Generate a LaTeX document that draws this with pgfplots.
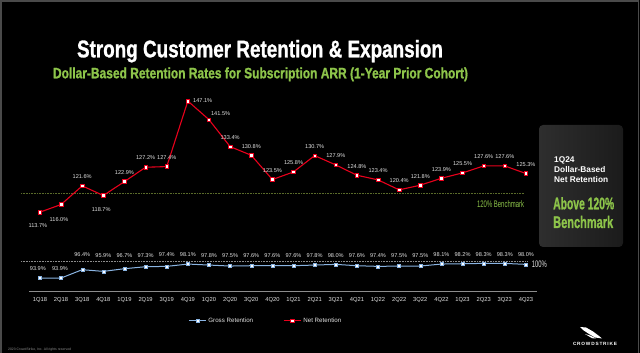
\documentclass[border=0pt]{standalone}
\usepackage{pgfplots}
\pgfplotsset{compat=1.18}
\usepackage{fontspec}
\setmainfont{Liberation Sans}
\newfontfamily\heavyfont{Liberation Sans Bold}[FakeBold=1.2]
\usepackage{graphicx}
\definecolor{csgreen}{HTML}{8DC44A}
\definecolor{netred}{HTML}{E8001C}
\definecolor{grossblue}{HTML}{8AB4E2}
\definecolor{lbl}{HTML}{E2E2E2}
\definecolor{bench}{HTML}{5A6B2A}
\definecolor{axgray}{HTML}{8C8C8C}
\definecolor{frame}{HTML}{4A4A4A}
\definecolor{boxL}{HTML}{2E2E2E}
\definecolor{boxR}{HTML}{1B1B1B}
\begin{document}
\begin{tikzpicture}[x=1pt,y=1pt]
\useasboundingbox (0,0) rectangle (640,353);
\fill[black] (0,0) rectangle (640,353);
\draw[frame, line width=1.5pt] (0.75,0) -- (0.75,352) -- (638.5,352) -- (638.5,0);
% right info box
\shade[rounded corners=4pt, left color=boxL, right color=boxR] (539,106) rectangle (623,228);
\node[anchor=base west, inner sep=0pt, text=white] at (554,190.7) {\fontsize{8.3}{9}\selectfont\bfseries 1Q24};
\node[anchor=base west, inner sep=0pt, text=white] at (554,180.3) {\fontsize{8.3}{9}\selectfont\bfseries Dollar-Based};
\node[anchor=base west, inner sep=0pt, text=white] at (554,170.3) {\fontsize{8.3}{9}\selectfont\bfseries Net Retention};
\node[anchor=base west, inner sep=0pt, text=csgreen] at (553,143.7) {\resizebox{61pt}{\height}{\fontsize{16.8}{17}\selectfont\heavyfont Above 120\%}};
\node[anchor=base west, inner sep=0pt, text=csgreen] at (553,125) {\resizebox{60pt}{\height}{\fontsize{16.8}{17}\selectfont\heavyfont Benchmark}};
% titles
\node[anchor=base, inner sep=0pt, text=white] at (260,295.7) {\resizebox{366pt}{\height}{\fontsize{24}{24}\selectfont\heavyfont Strong Customer Retention \& Expansion}};
\node[anchor=base, inner sep=0pt, text=csgreen] at (260.5,274.7) {\resizebox{415pt}{\height}{\fontsize{15}{15}\selectfont\heavyfont Dollar-Based Retention Rates for Subscription ARR (1-Year Prior Cohort)}};
% footer
\node[anchor=base west, inner sep=0pt, text=axgray] at (8,2.5) {\fontsize{3.4}{4}\selectfont 2023 CrowdStrike, Inc. All rights reserved};
\node[anchor=base, inner sep=0pt, text=white] at (595,7) {\resizebox{44pt}{\height}{\fontsize{4.6}{5}\selectfont\bfseries C\,R\,O\,W\,D\,S\,T\,R\,I\,K\,E}};
\fill[white] (580,26) -- (586,25.5) -- (593,21.5) -- (599,17) -- (602,14.5) -- (595,15.5) -- (589,19) -- (583,23) -- cycle;
\fill[white] (585,19) -- (590,17.5) -- (596,14.5) -- (592,14.8) -- cycle;

\begin{axis}[
  at={(29.4pt,62pt)}, anchor=south west, scale only axis,
  width=507.1pt, height=199.6pt,
  xmin=-0.5, xmax=23.5, ymin=90, ymax=150, clip=false,
  axis x line*=bottom, axis y line=none,
  x axis line style={draw=axgray, line width=0.9pt},
  xtick={0,...,23},
  xticklabels={1Q18,2Q18,3Q18,4Q18,1Q19,2Q19,3Q19,4Q19,1Q20,2Q20,3Q20,4Q20,1Q21,2Q21,3Q21,4Q21,1Q22,2Q22,3Q22,4Q22,1Q23,2Q23,3Q23,4Q23},
  xtick style={draw=none}, major tick length=0pt,
  xticklabel style={font=\fontsize{5.8}{6}\selectfont, text=lbl, anchor=base, yshift=-11pt},
  ytick=\empty,
  legend columns=2,
  legend style={draw=none, fill=none, text=lbl, font=\fontsize{6.2}{7}\selectfont,
    at={(0.313,-0.150)}, anchor=west, inner sep=0pt,
    /tikz/every even column/.append style={column sep=28pt}},
]
% reference lines
\addplot[forget plot, bench, line width=0.6pt, dash pattern=on 0.8pt off 0.8pt] coordinates {(-0.9,119.3) (22.9,119.3)};
\addplot[forget plot, axgray, line width=0.6pt, dash pattern=on 0.8pt off 0.8pt] coordinates {(-0.9,99.0) (23.05,99.0)};
\node[anchor=center, inner sep=0pt, text=csgreen] at (axis cs:21.8,116.1) {\resizebox{47pt}{\height}{\fontsize{9.5}{10}\selectfont 120\% Benchmark}};
\node[anchor=center, inner sep=0pt, text=lbl] at (axis cs:23.64,98.1) {\resizebox{15pt}{\height}{\fontsize{9.5}{10}\selectfont 100\%}};

\addplot[color=grossblue, line width=1pt, mark=square*, mark size=1.5pt,
  mark options={fill=white, draw=grossblue, line width=0.4pt}] coordinates {
(0,93.9) (1,93.9) (2,96.4) (3,95.9) (4,96.7) (5,97.3) (6,97.4) (7,98.1)
(8,97.8) (9,97.5) (10,97.6) (11,97.6) (12,97.6) (13,97.8) (14,98.0) (15,97.6)
(16,97.4) (17,97.5) (18,97.5) (19,98.1) (20,98.2) (21,98.3) (22,98.3) (23,98.0)};
\addlegendentry{Gross Retention}
\addplot[color=netred, line width=1.1pt, mark=square*, mark size=1.8pt,
  mark options={fill=white, draw=netred, line width=0.6pt}] coordinates {
(0,113.7) (1,116.0) (2,121.6) (3,118.7) (4,122.9) (5,127.2) (6,127.4) (7,147.1)
(8,141.5) (9,133.4) (10,130.8) (11,123.5) (12,125.8) (13,130.7) (14,127.9) (15,124.8)
(16,123.4) (17,120.4) (18,121.8) (19,123.9) (20,125.5) (21,127.6) (22,127.6) (23,125.3)};
\addlegendentry{Net Retention}

% data labels
\addplot[forget plot, only marks, mark=none, point meta=explicit symbolic,
  nodes near coords={\pgfplotspointmeta\%},
  every node near coord/.style={anchor=center, inner sep=0pt, font=\fontsize{5.6}{6}\selectfont, text=lbl}]
  table[meta=lab] {
x y lab
-0.1 96.6 93.9
0.95 96.6 93.9
2 100.85 96.4
3 100.75 95.9
4 100.75 96.7
5 100.75 97.3
6 100.85 97.4
7 100.85 98.1
8 100.7 97.8
9 100.7 97.5
10 100.7 97.6
11 100.7 97.6
12 100.7 97.6
13 100.7 97.8
14 100.75 98.0
15 100.7 97.6
16 100.7 97.4
17 100.7 97.5
18 100.7 97.5
19 100.8 98.1
20 100.8 98.2
21 100.8 98.3
22 100.8 98.3
23 100.8 98.0
};
\addplot[forget plot, only marks, mark=none, point meta=explicit symbolic,
  nodes near coords={\pgfplotspointmeta\%},
  every node near coord/.style={anchor=center, inner sep=0pt, font=\fontsize{5.6}{6}\selectfont, text=lbl}]
  table[meta=lab] {
x y lab
-0.1 109.8 113.7
0.9 111.6 116.0
2 124.3 121.6
2.9 114.6 118.7
4 125.5 122.9
5 130.0 127.2
6 130.0 127.4
7.7 147.2 147.1
8.55 143.2 141.5
9 136.1 133.4
10 133.5 130.8
11 126.2 123.5
12 128.5 125.8
13 133.4 130.7
14 130.6 127.9
15 127.5 124.8
16 126.1 123.4
17 123.1 120.4
18 124.5 121.8
19 126.6 123.9
20 128.2 125.5
21 130.3 127.6
22 130.3 127.6
23 128.0 125.3
};
\end{axis}
\end{tikzpicture}
\end{document}
